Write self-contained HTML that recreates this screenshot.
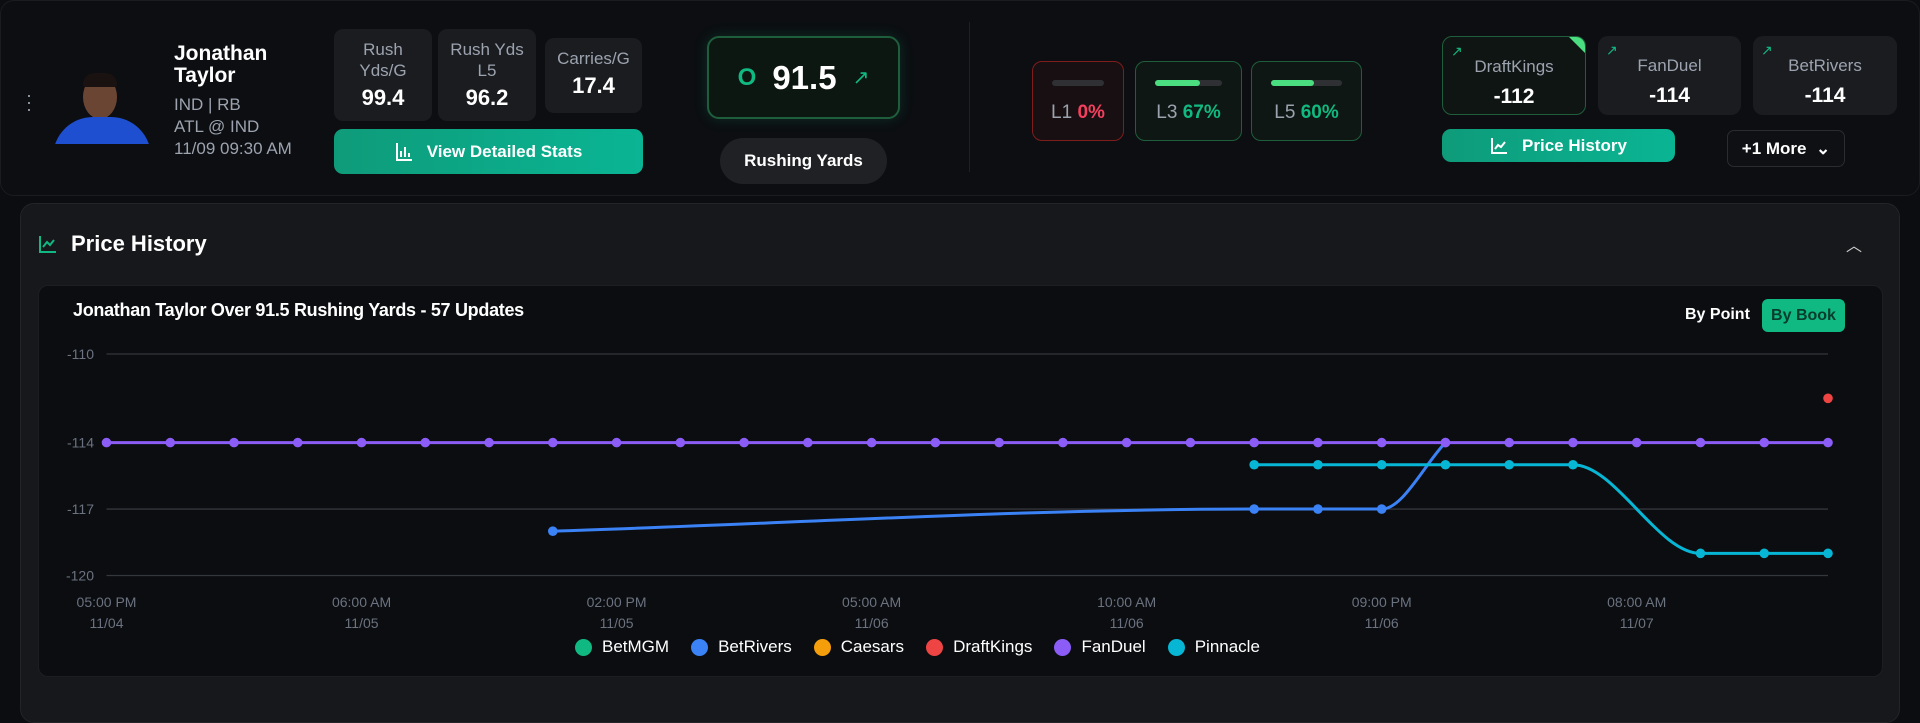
<!DOCTYPE html>
<html><head><meta charset="utf-8">
<style>
*{box-sizing:border-box;margin:0;padding:0}
body{width:1920px;height:689px;overflow:hidden;background:#0b0d10;font-family:"Liberation Sans",sans-serif;color:#fff;position:relative}
.abs{position:absolute}
.topcard{left:0;top:0;width:1920px;height:196px;background:#0c0e11;border-radius:14px;border:1px solid #1a1c20}
.stat{background:#1a1c20;border-radius:9px;text-align:center;color:#9ca3af;font-size:17px;line-height:21px}
.stat b{display:block;color:#fff;font-size:22px;margin-top:6px}
.btn{background:linear-gradient(90deg,#0e9b7a,#0ab594);border-radius:9px;color:#fff;font-weight:bold;font-size:17px;display:flex;align-items:center;justify-content:center;gap:14px}
.hit{border-radius:10px;display:flex;align-items:center;justify-content:center;font-size:19px;color:#9ca3af}
.hit .bar{position:absolute;top:18px;left:19px;right:19px;height:6px;border-radius:3px;background:#2e3034}
.book{background:#1a1c20;border-radius:10px;text-align:center;color:#9ca3af;font-size:17px;padding-top:20px}
.book b{display:block;color:#fff;font-size:21px;margin-top:8px}
.ext{position:absolute;left:8px;top:6px;color:#10b981;font-size:14px}
</style></head><body>
<div class="abs topcard"></div>
<div class="abs" style="left:26px;top:92px;width:6px;color:#9ca3af;font-size:18px;line-height:7px;text-align:center">·<br>·<br>·</div>
<div class="abs" style="left:51px;top:73px;width:102px;height:71px;overflow:hidden">
  <div style="position:absolute;left:32px;top:2px;width:34px;height:44px;border-radius:50%;background:#6b4533"></div>
  <div style="position:absolute;left:32px;top:0;width:34px;height:14px;border-radius:17px 17px 4px 4px;background:#1a1210"></div>
  <div style="position:absolute;left:2px;top:44px;width:98px;height:40px;border-radius:40px 40px 0 0;background:#1e4fd1"></div>
</div>
<div class="abs" style="left:174px;top:43px;font-size:21px;font-weight:bold;line-height:22px">Jonathan<br>Taylor</div>
<div class="abs" style="left:174px;top:94px;font-size:17px;line-height:22px;color:#9ca3af">IND | RB<br>ATL @ IND<br>11/09 09:30 AM</div>
<div class="abs stat" style="left:334px;top:29px;width:98px;height:92px;padding-top:10px">Rush<br>Yds/G<b>99.4</b></div>
<div class="abs stat" style="left:438px;top:29px;width:98px;height:92px;padding-top:10px">Rush Yds<br>L5<b>96.2</b></div>
<div class="abs stat" style="left:545px;top:38px;width:97px;height:75px;padding-top:10px">Carries/G<b>17.4</b></div>
<div class="abs btn" style="left:334px;top:129px;width:309px;height:45px"><svg width="18" height="20" viewBox="0 0 18 20"><path d="M2 1V18H17M6 15V9M10 15V5M14 15V11" stroke="#fff" stroke-width="2" fill="none"/></svg>View Detailed Stats</div>
<div class="abs" style="left:707px;top:36px;width:193px;height:83px;border:2px solid #1f5e3c;border-radius:12px;background:#0d1712;box-shadow:0 0 14px rgba(16,185,129,0.18);display:flex;align-items:center;justify-content:center;gap:16px">
  <span style="color:#10b981;font-size:24px;font-weight:bold">O</span><span style="font-size:33px;font-weight:bold">91.5</span><span style="color:#10b981;font-size:20px">↗</span></div>
<div class="abs" style="left:720px;top:138px;width:167px;height:46px;border-radius:23px;background:#1f2125;display:flex;align-items:center;justify-content:center;font-size:17px;font-weight:bold">Rushing Yards</div>
<div class="abs" style="left:969px;top:22px;width:1px;height:150px;background:#1e2024"></div>
<div class="abs hit" style="left:1032px;top:61px;width:92px;height:80px;border:1.5px solid #7f1d1d;background:#170f11;padding-top:24px"><div class="bar"></div>L1&nbsp;<b style="color:#f43f5e">0%</b></div>
<div class="abs hit" style="left:1135px;top:61px;width:107px;height:80px;border:1.5px solid #1f5e3c;background:#0f1714;padding-top:24px"><div class="bar"><div style="width:67%;height:6px;border-radius:3px;background:#4ade80"></div></div>L3&nbsp;<b style="color:#10b981">67%</b></div>
<div class="abs hit" style="left:1251px;top:61px;width:111px;height:80px;border:1.5px solid #1f5e3c;background:#0f1714;padding-top:24px"><div class="bar"><div style="width:60%;height:6px;border-radius:3px;background:#4ade80"></div></div>L5&nbsp;<b style="color:#10b981">60%</b></div>
<div class="abs book" style="left:1442px;top:36px;width:144px;height:79px;border:1.5px solid #1f5e3c;background:#0f1513;overflow:hidden"><span class="ext">↗</span><div style="position:absolute;right:0;top:0;border-top:16px solid #4ade80;border-left:16px solid transparent"></div>DraftKings<b>-112</b></div>
<div class="abs book" style="left:1598px;top:36px;width:143px;height:79px"><span class="ext">↗</span>FanDuel<b>-114</b></div>
<div class="abs book" style="left:1753px;top:36px;width:144px;height:79px"><span class="ext">↗</span>BetRivers<b>-114</b></div>
<div class="abs btn" style="left:1442px;top:129px;width:233px;height:33px"><svg width="18" height="18" viewBox="0 0 18 18"><path d="M2 1V16H17M5 12L8 8L11 10L15 5" stroke="#fff" stroke-width="2" fill="none"/></svg>Price History</div>
<div class="abs" style="left:1727px;top:130px;width:118px;height:37px;border:1px solid #2a2c30;border-radius:7px;background:#0e1013;display:flex;align-items:center;justify-content:center;font-size:17px;font-weight:bold">+1 More&nbsp;&nbsp;⌄</div>

<div class="abs" style="left:20px;top:203px;width:1880px;height:520px;background:#17181b;border:1px solid #222428;border-radius:14px"></div>
<svg class="abs" style="left:38px;top:234px" width="20" height="20" viewBox="0 0 20 20"><path d="M2 2V18H18M5 13L9 8L12 11L16 6" stroke="#10b981" stroke-width="2" fill="none"/></svg>
<div class="abs" style="left:71px;top:231px;font-size:22px;font-weight:bold">Price History</div>
<div class="abs" style="left:1846px;top:232px;font-size:16px;color:#ccc">︿</div>
<div class="abs" style="left:38px;top:285px;width:1845px;height:392px;background:#0b0d10;border:1px solid #1c1e22;border-radius:10px"></div>
<div class="abs" style="left:73px;top:300px;font-size:18px;font-weight:bold;letter-spacing:-0.3px">Jonathan Taylor Over 91.5 Rushing Yards - 57 Updates</div>
<div class="abs" style="left:1685px;top:306px;font-size:16px;font-weight:bold">By Point</div>
<div class="abs" style="left:1762px;top:299px;width:83px;height:33px;border-radius:6px;background:#10b981;color:#063d2c;font-size:16px;font-weight:bold;display:flex;align-items:center;justify-content:center">By Book</div>

<svg id="chart" class="abs" style="left:0;top:0" width="1920" height="689"></svg>
<div class="abs" style="left:575px;top:637px;display:flex;gap:22px;font-size:17px;align-items:center" id="legend"></div>

<script>
const categories = Array.from({length:28},(_,i)=>i);
const xTickLabels = ["05:00 PM|11/04","06:00 AM|11/05","02:00 PM|11/05","05:00 AM|11/06","10:00 AM|11/06","09:00 PM|11/06","08:00 AM|11/07"];
const xTickIndex = [0,4,8,12,16,20,24];
const yTicks = [-110,-114,-117,-120];
const seriesNames = ["BetMGM","BetRivers","Caesars","DraftKings","FanDuel","Pinnacle"];
const seriesColors = ["#10b981","#3b82f6","#f59e0b","#ef4444","#8b5cf6","#06b6d4"];
const N = null;
const betmgm = Array(28).fill(N);
const caesars = Array(28).fill(N);
const betrivers = [N,N,N,N,N,N,N,-118,N,N,N,N,N,N,N,N,N,N,-117,-117,-117,-114,N,N,N,N,N,N];
const draftkings = [N,N,N,N,N,N,N,N,N,N,N,N,N,N,N,N,N,N,N,N,N,N,N,N,N,N,N,-112];
const fanduel = Array(28).fill(-114);
const pinnacle = [N,N,N,N,N,N,N,N,N,N,N,N,N,N,N,N,N,N,-115,-115,-115,-115,-115,-115,N,-119,-119,-119];
const seriesData = [betmgm,betrivers,caesars,draftkings,fanduel,pinnacle];

const svg=document.getElementById('chart');
const NS='http://www.w3.org/2000/svg';
const X0=106.5,X1=1828,Y0=354,Y1=575.5,VMAX=-110,VMIN=-120;
const xs=i=>X0+(X1-X0)*i/(categories.length-1);
const ys=v=>Y0+(Y1-Y0)*(VMAX-v)/(VMAX-VMIN);
function mk(t,a){const e=document.createElementNS(NS,t);for(const k in a)e.setAttribute(k,a[k]);svg.appendChild(e);return e;}
yTicks.forEach(v=>{
  const l=mk('line',{x1:X0,x2:X1,y1:ys(v),y2:ys(v),stroke:'#34373c','stroke-width':1.3});
  
  
  const t=mk('text',{x:94,y:ys(v)+5,'text-anchor':'end',fill:'#6b7280','font-size':14,'font-family':'Liberation Sans, sans-serif'});
  t.textContent=v;
  
  
});
xTickIndex.forEach((ci,k)=>{
  const p=xTickLabels[k].split('|');
  const t=mk('text',{x:xs(ci),y:607,'text-anchor':'middle',fill:'#6b7280','font-size':14,'font-family':'Liberation Sans, sans-serif'});
  t.textContent=p[0];
  
  
  const t2=mk('text',{x:xs(ci),y:628,'text-anchor':'middle',fill:'#6b7280','font-size':14,'font-family':'Liberation Sans, sans-serif'});
  t2.textContent=p[1];
  
  
});
function monoPath(pts){
  const n=pts.length;if(n<2)return '';
  const d=[],m=[];
  for(let i=0;i<n-1;i++)d.push((pts[i+1][1]-pts[i][1])/(pts[i+1][0]-pts[i][0]));
  m[0]=d[0];m[n-1]=d[n-2];
  for(let i=1;i<n-1;i++)m[i]=(d[i-1]*d[i]<=0)?0:(d[i-1]+d[i])/2;
  for(let i=0;i<n-1;i++){if(d[i]===0){m[i]=0;m[i+1]=0;continue;}const a=m[i]/d[i],b=m[i+1]/d[i],s=a*a+b*b;if(s>9){const t=3/Math.sqrt(s);m[i]=t*a*d[i];m[i+1]=t*b*d[i];}}
  let p='M'+pts[0][0]+','+pts[0][1];
  for(let i=0;i<n-1;i++){const h=(pts[i+1][0]-pts[i][0])/3;p+=' C'+(pts[i][0]+h)+','+(pts[i][1]+m[i]*h)+' '+(pts[i+1][0]-h)+','+(pts[i+1][1]-m[i+1]*h)+' '+pts[i+1][0]+','+pts[i+1][1];}
  return p;
}
const order=[1,5,4,3,0,2];
order.forEach(si=>{
  const pts=[];seriesData[si].forEach((v,i)=>{if(v!==null)pts.push([xs(i),ys(v)]);});
  if(pts.length>1){const pa=mk('path',{d:monoPath(pts),fill:'none',stroke:seriesColors[si],'stroke-width':3});
    
    }
  pts.forEach(p=>{const c=mk('circle',{cx:p[0],cy:p[1],r:4.8,fill:seriesColors[si]});
    
    });
});
const lg=document.getElementById('legend');
seriesNames.forEach((n,i)=>{
  const it=document.createElement('div');
  
  
  it.style.cssText='display:flex;align-items:center;gap:10px';
  it.innerHTML='<span style="width:17px;height:17px;border-radius:50%;background:'+seriesColors[i]+';display:inline-block"></span>'+n;
  lg.appendChild(it);
});
</script>
</body></html>
